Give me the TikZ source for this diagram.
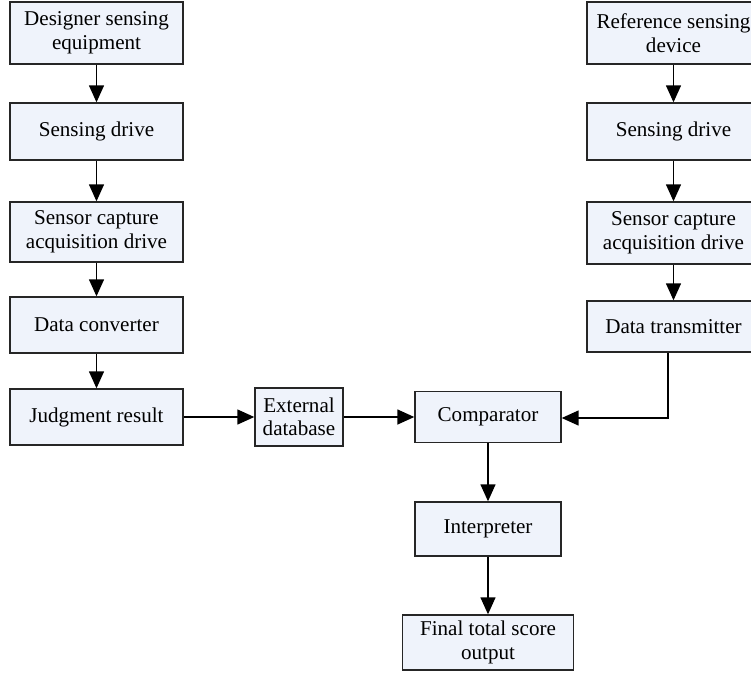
\documentclass[tikz,border=0pt]{standalone}
\usepackage{fontspec}
\setmainfont{Liberation Serif}
\usetikzlibrary{arrows.meta, positioning}
\definecolor{boxfill}{HTML}{EFF3FB}
\begin{document}
\begin{tikzpicture}[
    x=0.02cm, y=-0.02cm,
    blk/.style={draw=black!85, fill=boxfill, line width=0.8pt, align=center, inner sep=2pt,
      font=\fontsize{12}{13.4}\selectfont},
    arr/.style={-{Triangle[length=0.34cm, width=0.3cm]}, line width=0.8pt}
  ]
    \useasboundingbox (0,0) rectangle (751,674);
    \clip (0,0) rectangle (751,674);
    % left column
    \node[blk, minimum width=3.46cm, minimum height=1.24cm] (l1) at (96.5,33) {Designer sensing\\equipment};
    \node[blk, minimum width=3.46cm, minimum height=1.14cm] (l2) at (96.5,131.5) {Sensing drive};
    \node[blk, minimum width=3.46cm, minimum height=1.20cm] (l3) at (96.5,232) {Sensor capture\\acquisition drive};
    \node[blk, minimum width=3.46cm, minimum height=1.12cm] (l4) at (96.5,325) {Data converter};
    \node[blk, minimum width=3.46cm, minimum height=1.12cm] (l5) at (96.5,417) {Judgment result};
    % right column
    \node[blk, minimum width=3.46cm, minimum height=1.24cm] (r1) at (673.5,33) {Reference sensing\\device};
    \node[blk, minimum width=3.46cm, minimum height=1.14cm] (r2) at (673.5,131.5) {Sensing drive};
    \node[blk, minimum width=3.46cm, minimum height=1.24cm] (r3) at (673.5,233) {Sensor capture\\acquisition drive};
    \node[blk, minimum width=3.46cm, minimum height=1.02cm] (r4) at (673.5,326.5) {Data transmitter};
    % middle
    \node[blk, minimum width=1.76cm, minimum height=1.16cm] (ext) at (299,417) {External\\database};
    \node[blk, minimum width=2.92cm, minimum height=1.02cm] (cmp) at (488,417) {Comparator};
    \node[blk, minimum width=2.92cm, minimum height=1.08cm] (int) at (488,529) {Interpreter};
    \node[blk, minimum width=3.42cm, minimum height=1.10cm] (out) at (488,642.5) {Final total score\\output};
    \coordinate (bend) at (668,418);
    \foreach \a/\b in {l1/l2,l2/l3,l3/l4,l4/l5,r1/r2,r2/r3,r3/r4,cmp/int,int/out} {
      \draw[arr] (\a) -- (\b);
    }
    \draw[arr] (l5) -- (ext);
    \draw[arr] (ext) -- (cmp);
    \draw[arr] (r4.south -| bend) -- (bend) -- (cmp.east |- bend);
  \end{tikzpicture}
\end{document}
